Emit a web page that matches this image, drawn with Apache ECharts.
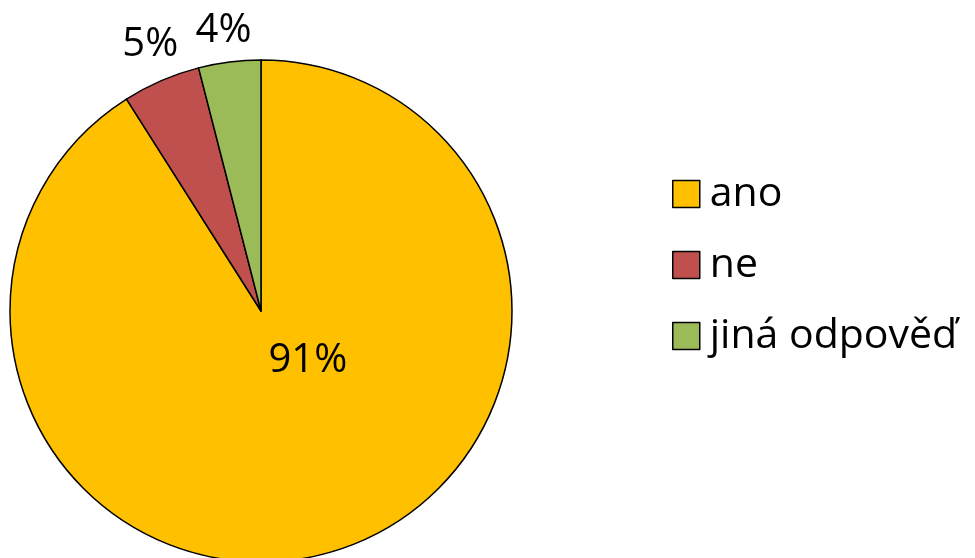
<!DOCTYPE html>
<html>
<head>
<meta charset="utf-8">
<script src="https://cdn.jsdelivr.net/npm/echarts@6/dist/echarts.min.js"></script>
<style>
  html, body { margin: 0; padding: 0; background: #fff; }
  #chart { width: 975px; height: 558px; }
</style>
</head>
<body>
<div id="chart"></div>
<script>
// answers and their share in percent
const categories = ['ano', 'ne', 'jiná odpověď'];
const values = [91, 5, 4];
const colors = ['#FFC000', '#C0504D', '#9BBB59'];

const chart = echarts.init(document.getElementById('chart'));

const data = categories.map((name, i) => ({
  name: name,
  value: values[i],
  itemStyle: { color: colors[i] },
  label: i === 0 ? { position: 'inside' } : { position: 'outside' },
}));

// nudge labels to where the original placed them
const labelShift = [[11, -74], [60, -59], [27, -31]];

const options = {
  animation: false,
  textStyle: { fontFamily: 'Open Sans' },
  legend: {
    orient: 'vertical',
    left: 667,
    top: 167,
    icon: 'rect',
    itemWidth: 27,
    itemHeight: 27,
    itemGap: 27,
    data: categories,
    itemStyle: { borderColor: '#000', borderWidth: 1.5 },
    textStyle: {
      fontSize: 41,
      color: '#000',
      fontFamily: 'Open Sans',
      lineHeight: 44,
      padding: [0, 0, 0, 5],
    },
  },
  series: [
    {
      type: 'pie',
      center: [261, 311],
      radius: 251,
      startAngle: 90,
      clockwise: true,
      data: data,
      itemStyle: { borderColor: '#000', borderWidth: 1.5 },
      label: {
        show: true,
        formatter: '{c}%',
        fontSize: 40,
        color: '#000',
        fontFamily: 'Open Sans',
      },
      labelLine: { show: false, length: 0, length2: 0 },
      labelLayout: function (params) {
        const s = labelShift[params.dataIndex];
        return { dx: s[0], dy: s[1] };
      },
      emphasis: { disabled: true },
    },
  ],
};

chart.setOption(options);
</script>
</body>
</html>
